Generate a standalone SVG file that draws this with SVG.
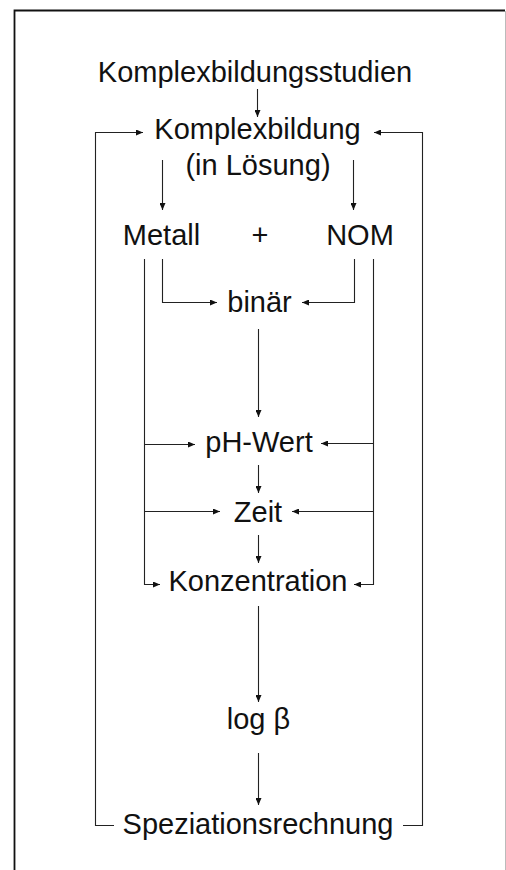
<svg xmlns="http://www.w3.org/2000/svg" width="506" height="870" viewBox="0 0 506 870">
<defs>
<style>
text{font-family:"Liberation Sans",Arial,sans-serif;font-size:29px;fill:#111;text-anchor:middle}
.c{fill:none;stroke:#222;stroke-width:1.1}
.a{marker-end:url(#ah)}
</style>
<marker id="ah" markerUnits="userSpaceOnUse" markerWidth="8" markerHeight="6" refX="7" refY="3" orient="auto">
<path d="M0,0 L7,3 L0,6 Z" fill="#111"/>
</marker>
</defs>
<rect width="506" height="870" fill="#fff"/>
<g id="frame">
<path d="M14.5,870 V10.5 H505" fill="none" stroke="#111" stroke-width="1.8"/>
<line x1="505.5" y1="11" x2="505.5" y2="870" stroke="#bbb" stroke-width="1"/>
</g>
<g id="connectors">
<path class="c a" d="M257.5,89 V117"/>
<path class="c a" d="M114,825.5 H95.5 V132.5 H143"/>
<path class="c a" d="M403,825.5 H422.5 V132.5 H374"/>
<path class="c a" d="M162.5,160 V210"/>
<path class="c a" d="M353.5,160 V210"/>
<path class="c a" d="M162.5,259 V302.5 H217"/>
<path class="c a" d="M354.5,259 V302.5 H302"/>
<path class="c a" d="M258.5,329 V417"/>
<path class="c a" d="M144.5,259 V584.5 H160"/>
<path class="c a" d="M144.5,444.5 H195"/>
<path class="c a" d="M144.5,511.5 H220"/>
<path class="c a" d="M373.5,259 V584.5 H354"/>
<path class="c a" d="M373.5,443.5 H321"/>
<path class="c a" d="M373.5,511.5 H292"/>
<path class="c a" d="M258.5,465 V493"/>
<path class="c a" d="M258.5,535 V563"/>
<path class="c a" d="M258.5,606 V702"/>
<path class="c a" d="M258.5,753 V805"/>
</g>
<g id="studien"><text x="255" y="82">Komplexbildungsstudien</text></g>
<g id="komplexbildung"><text x="257.5" y="139">Komplexbildung</text><text x="258" y="175">(in Lösung)</text></g>
<g id="metall"><text x="161.5" y="245">Metall</text></g>
<g id="plus"><text x="260" y="245">+</text></g>
<g id="nom"><text x="360" y="245">NOM</text></g>
<g id="binaer"><text x="259.5" y="312">binär</text></g>
<g id="ph"><text x="259" y="452">pH-Wert</text></g>
<g id="zeit"><text x="258" y="522">Zeit</text></g>
<g id="konz"><text x="258" y="591">Konzentration</text></g>
<g id="logb"><text x="258.5" y="729">log β</text></g>
<g id="spez"><text x="258" y="834">Speziationsrechnung</text></g>
</svg>
